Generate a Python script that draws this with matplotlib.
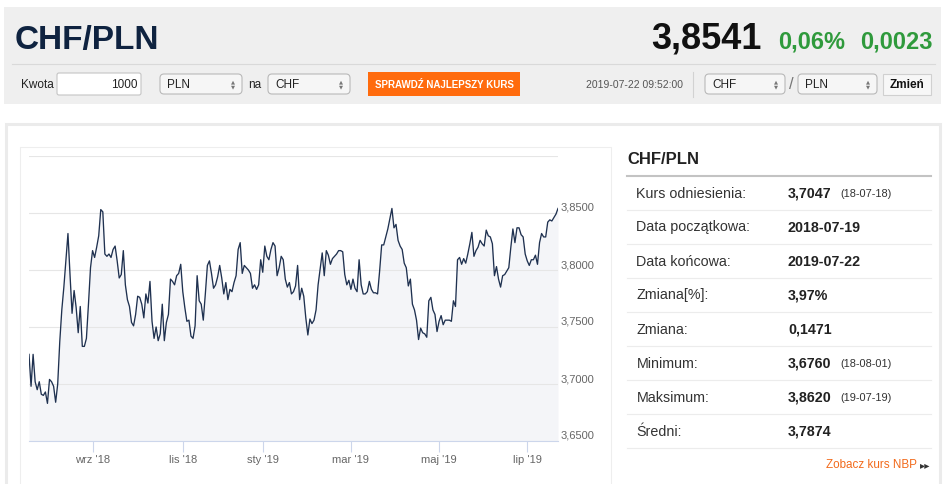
import matplotlib
matplotlib.use("Agg")
import matplotlib.pyplot as plt
import numpy as np
from matplotlib import font_manager
from matplotlib.patches import FancyBboxPatch, Rectangle
from matplotlib.transforms import ScaledTranslation

# kurs CHF/PLN, kolejne notowania od 2018-07-19 do 2019-07-22
kurs = [
    3.726, 3.698, 3.726, 3.702, 3.695, 3.702, 3.691, 3.690, 3.693, 3.683,
    3.704, 3.702, 3.698, 3.684, 3.700, 3.737, 3.765, 3.785, 3.808, 3.832,
    3.796, 3.762, 3.782, 3.767, 3.745, 3.768, 3.733, 3.733, 3.740, 3.770,
    3.802, 3.817, 3.811, 3.820, 3.830, 3.853, 3.851, 3.814, 3.812, 3.814,
    3.811, 3.818, 3.821, 3.808, 3.793, 3.796, 3.817, 3.787, 3.774, 3.768,
    3.754, 3.751, 3.761, 3.777, 3.776, 3.770, 3.758, 3.779, 3.771, 3.790,
    3.755, 3.740, 3.750, 3.738, 3.744, 3.770, 3.738, 3.754, 3.761, 3.792,
    3.790, 3.787, 3.795, 3.797, 3.805, 3.781, 3.767, 3.755, 3.756, 3.742,
    3.740, 3.751, 3.795, 3.773, 3.770, 3.756, 3.779, 3.804, 3.808, 3.797,
    3.784, 3.787, 3.794, 3.804, 3.793, 3.779, 3.789, 3.774, 3.783, 3.781,
    3.789, 3.795, 3.818, 3.824, 3.797, 3.804, 3.802, 3.800, 3.797, 3.784,
    3.787, 3.783, 3.787, 3.809, 3.798, 3.821, 3.812, 3.809, 3.818, 3.824,
    3.821, 3.795, 3.802, 3.812, 3.809, 3.792, 3.785, 3.789, 3.779, 3.781,
    3.786, 3.804, 3.774, 3.784, 3.777, 3.758, 3.743, 3.757, 3.753, 3.756,
    3.765, 3.787, 3.801, 3.815, 3.795, 3.817, 3.813, 3.805, 3.810, 3.812,
    3.814, 3.817, 3.817, 3.816, 3.796, 3.787, 3.791, 3.783, 3.792, 3.784,
    3.781, 3.809, 3.787, 3.779, 3.779, 3.781, 3.790, 3.783, 3.780, 3.780,
    3.779, 3.799, 3.822, 3.822, 3.829, 3.836, 3.845, 3.854, 3.837, 3.840,
    3.826, 3.821, 3.818, 3.806, 3.802, 3.786, 3.792, 3.770, 3.765, 3.756,
    3.739, 3.749, 3.745, 3.744, 3.741, 3.773, 3.776, 3.765, 3.761, 3.746,
    3.755, 3.760, 3.752, 3.756, 3.756, 3.756, 3.755, 3.773, 3.768, 3.809,
    3.811, 3.805, 3.810, 3.806, 3.814, 3.823, 3.833, 3.812, 3.817, 3.820,
    3.826, 3.823, 3.821, 3.835, 3.830, 3.829, 3.823, 3.795, 3.803, 3.792,
    3.785, 3.795, 3.796, 3.799, 3.802, 3.820, 3.836, 3.824, 3.837, 3.837,
    3.831, 3.829, 3.814, 3.808, 3.804, 3.809, 3.809, 3.813, 3.805, 3.824,
    3.832, 3.829, 3.829, 3.842, 3.844, 3.843, 3.846, 3.849, 3.854,
]

etykiety_x = ["wrz '18", "lis '18", "sty '19", "mar '19", "maj '19", "lip '19"]
pozycje_x = [31, 75, 114, 157, 200, 243]
poziomy_y = [3.65, 3.70, 3.75, 3.80, 3.85, 3.90]

para = "CHF/PLN"
kurs_biezacy = "3,8541"
zmiana_proc = "0,06%"
zmiana_abs = "0,0023"
data_notowania = "2019-07-22 09:52:00"

etykiety_stat = ["Kurs odniesienia:", "Data początkowa:", "Data końcowa:",
                 "Zmiana[%]:", "Zmiana:", "Minimum:", "Maksimum:", "Średni:"]
wartosci_stat = ["3,7047", "2018-07-19", "2019-07-22", "3,97%",
                 "0,1471", "3,6760", "3,8620", "3,7874"]
daty_stat = ["(18-07-18)", "", "", "", "", "(18-08-01)", "(19-07-19)", ""]

W, H = 945, 484
POMARANCZ = "#ff6b0d"

dostepne = {f.name for f in font_manager.fontManager.ttflist}
WASKI = ["Liberation Sans Narrow"] if "Liberation Sans Narrow" in dostepne else ["Liberation Sans"]
WASKI = WASKI + ["DejaVu Sans"]
ZWYKLY = ["Liberation Sans", "DejaVu Sans"]


def prostokat(ax, x0, y0, x1, y1, kolor, krawedz="none", lw=0.0, r=0.0, z=1):
    if r > 0:
        p = FancyBboxPatch((x0, y0), x1 - x0, y1 - y0,
                           boxstyle=f"round,pad=0,rounding_size={r}",
                           facecolor=kolor, edgecolor=krawedz, linewidth=lw, zorder=z)
    else:
        p = Rectangle((x0, y0), x1 - x0, y1 - y0, facecolor=kolor,
                      edgecolor=krawedz, linewidth=lw, zorder=z)
    ax.add_patch(p)


def lista(ax, x0, x1, tekst):
    prostokat(ax, x0, 74, x1, 94, "#f6f6f6", "#b9b9b9", 0.8, r=4, z=2)
    ax.text(x0 + 7, 84.5, tekst, fontsize=8.5, family=WASKI, color="#222",
            va="center", zorder=3)
    ax.text(x1 - 9, 81.5, "▲", fontsize=3.8, family="DejaVu Sans", color="#777",
            ha="center", va="center", zorder=3)
    ax.text(x1 - 9, 86.5, "▼", fontsize=3.8, family="DejaVu Sans", color="#777",
            ha="center", va="center", zorder=3)


def rysuj_naglowek(ax):
    prostokat(ax, 4, 7, 941, 104, "#efefef")
    ax.plot([12, 935], [64, 64], color="#d9d9d9", lw=0.8)

    ax.text(15, 49, para, fontsize=24, family=WASKI, color="#0f2340",
            fontweight="bold", va="baseline")
    ax.text(762, 49, kurs_biezacy, fontsize=26, family=WASKI, color="#111111",
            fontweight="bold", va="baseline", ha="right")
    ax.text(778, 49, zmiana_proc, fontsize=17, family=WASKI, color="#2f9a3c",
            fontweight="bold", va="baseline")
    ax.text(933, 49, zmiana_abs, fontsize=17, family=WASKI, color="#2f9a3c",
            fontweight="bold", va="baseline", ha="right")

    ax.text(21, 84.5, "Kwota", fontsize=8.5, family=WASKI, color="#222", va="center")
    prostokat(ax, 57, 73, 141, 95, "white", "#c4c4c4", 0.8, r=2, z=2)
    ax.text(138, 84.5, "1000", fontsize=8.5, family=WASKI, color="#222",
            va="center", ha="right", zorder=3)
    lista(ax, 160, 242, "PLN")
    ax.text(248, 84.5, "na", fontsize=8.5, family=WASKI, color="#222", va="center")
    lista(ax, 268, 350, "CHF")

    prostokat(ax, 368, 72, 520, 96, POMARANCZ, z=2)
    ax.text(444, 84.5, "SPRAWDŹ NAJLEPSZY KURS", fontsize=7, family=WASKI,
            color="white", fontweight="bold", ha="center", va="center", zorder=3)

    ax.text(683, 84.5, data_notowania, fontsize=7.5, family=WASKI, color="#555",
            ha="right", va="center")
    ax.plot([693, 693], [72, 97], color="#d2d2d2", lw=0.8)
    lista(ax, 705, 785, "CHF")
    ax.text(791.5, 84.5, "/", fontsize=12, family=WASKI, color="#777",
            ha="center", va="center")
    lista(ax, 798, 877, "PLN")
    prostokat(ax, 883, 74, 931, 95, "#f7f7f7", "#d0d0d0", 0.8, z=2)
    ax.text(907, 85, "Zmień", fontsize=8.5, family=WASKI, color="#111",
            fontweight="bold", ha="center", va="center", zorder=3)


def rysuj_panel(ax):
    ax.text(627, 160, para, fontsize=12, family=ZWYKLY, color="#222",
            fontweight="bold", va="center")
    ax.plot([627, 931], [176, 176], color="#c3c3c3", lw=1.5)
    for i, (etykieta, wartosc, data) in enumerate(zip(etykiety_stat, wartosci_stat, daty_stat)):
        y = 193.5 + i * 34.0
        ax.text(636.5, y, etykieta, fontsize=10.3, family=ZWYKLY, color="#333", va="center")
        ax.text(788, y, wartosc, fontsize=10.3, family=ZWYKLY, color="#222",
                fontweight="bold", va="center")
        if data:
            ax.text(840, y + 0.5, data, fontsize=7.9, family=ZWYKLY, color="#333", va="center")
        ax.plot([627, 931], [210 + i * 34.0] * 2, color="#ececec", lw=0.8)
    ax.text(917, 465, "Zobacz kurs NBP", fontsize=8.4, family=ZWYKLY,
            color="#f26a1b", va="center", ha="right")
    ax.text(920, 465.5, "▸▸", fontsize=7.5, family="DejaVu Sans", color="#333",
            va="center")


def rysuj_wykres(fig):
    ax = fig.add_axes([29 / W, 1 - 441 / H, 529 / W, 285 / H])
    x = np.arange(len(kurs))
    ax.fill_between(x, kurs, poziomy_y[0], color="#f4f5f8", lw=0, zorder=1)
    ax.plot(x, kurs, color="#1f3150", lw=0.95, zorder=3)
    ax.set_xlim(0, len(kurs) - 1)
    ax.set_ylim(poziomy_y[0], poziomy_y[-1])
    ax.set_facecolor("white")

    ax.set_yticks(poziomy_y)
    ax.set_yticklabels([f"{v:.4f}".replace(".", ",") if v < poziomy_y[-1] else ""
                        for v in poziomy_y])
    ax.yaxis.tick_right()
    ax.tick_params(axis="y", length=0, pad=1.5, labelsize=8, labelcolor="#666666")
    ax.grid(axis="y", color="#e6e6e6", lw=0.8, zorder=2)
    ax.set_axisbelow(False)
    przesun = ScaledTranslation(0, 6 / 100, fig.dpi_scale_trans)
    for lbl in ax.get_yticklabels():
        lbl.set_transform(lbl.get_transform() + przesun)
        lbl.set_family(ZWYKLY)

    ax.set_xticks(pozycje_x)
    ax.set_xticklabels(etykiety_x, family=ZWYKLY)
    ax.tick_params(axis="x", length=8, width=0.8, color="#ccd6eb", pad=2,
                   labelsize=8, labelcolor="#666666")
    for s in ("top", "left", "right"):
        ax.spines[s].set_visible(False)
    ax.spines["bottom"].set_color("#ccd6eb")
    ax.spines["bottom"].set_linewidth(0.8)
    return ax


fig = plt.figure(figsize=(W / 100, H / 100), dpi=100)
strona = fig.add_axes([0, 0, 1, 1])
strona.set_xlim(0, W)
strona.set_ylim(H, 0)
strona.axis("off")

rysuj_naglowek(strona)
prostokat(strona, 5.5, 123.5, 939.5, 492, "white", "#ebebeb", 2.2)
prostokat(strona, 19.5, 146.5, 610.5, 492, "none", "#eeeeee", 0.8)
rysuj_panel(strona)
rysuj_wykres(fig)

fig.savefig("out.png", dpi=100)
